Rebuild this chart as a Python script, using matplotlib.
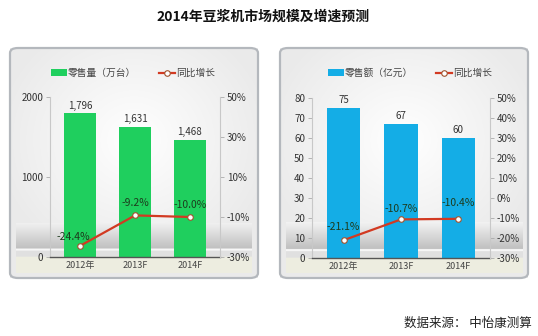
import numpy as np
import matplotlib
matplotlib.use("Agg")
import matplotlib.pyplot as plt
from matplotlib.patches import FancyBboxPatch, Patch
from matplotlib.lines import Line2D

plt.rcParams['font.family'] = ['Noto Sans CJK SC', 'DejaVu Sans']

categories = ["2012年", "2013F", "2014F"]
volume = [1796, 1631, 1468]          # 零售量（万台）
volume_growth = [-24.4, -9.2, -10.0]  # 同比增长 %
revenue = [75, 67, 60]               # 零售额（亿元）
revenue_growth = [-21.1, -10.7, -10.4]
title = "2014年豆浆机市场规模及增速预测"
source = "数据来源： 中怡康测算"

W, H = 538, 336
fig = plt.figure(figsize=(W / 100, H / 100), dpi=100)

def fx(px):
    return px / W

def fy(py):
    return 1 - py / H

def panel(x0, x1, y0, y1):
    bg = fig.add_axes([fx(x0), fy(y1), fx(x1 - x0), (y1 - y0) / H], zorder=0)
    gx = np.linspace(-1, 1, 200)
    gy = np.linspace(-1, 1, 200)
    X, Y = np.meshgrid(gx, gy)
    Z = 0.92 + 0.08 * (1 - np.clip(np.sqrt((X * 0.9) ** 2 + ((Y + 0.2) * 0.9) ** 2), 0, 1))
    img = np.dstack([Z, Z, Z])
    bg.imshow(img, extent=[0, 1, 0, 1], aspect='auto', origin='upper')
    bg.set_xlim(0, 1)
    bg.set_ylim(0, 1)
    bg.axis('off')

def floor(x0, x1, top, bottom, axis_y, strip_bottom):
    fl = fig.add_axes([fx(x0), fy(strip_bottom), fx(x1 - x0), (strip_bottom - top) / H], zorder=0.5)
    n = 100
    tot = strip_bottom - top
    ys = np.linspace(top, strip_bottom, n)
    vals = np.ones((n, 1, 3))
    for i, py in enumerate(ys):
        if py <= bottom:
            t = (py - top) / (bottom - top)
            c = 0.95 - 0.20 * t
        elif py <= bottom + 2:
            c = 0.97
        elif py <= axis_y:
            c = 0.88
        else:
            c = 0.93
        vals[i, 0, :] = c
    vals[:, 0, 2] -= np.where(ys > axis_y, 0.05, 0)
    fl.imshow(vals, extent=[0, 1, 0, 1], aspect='auto', origin='upper')
    fl.set_xlim(0, 1)
    fl.set_ylim(0, 1)
    fl.axis('off')

def border(x0, x1, y0, y1):
    p = FancyBboxPatch((fx(x0), fy(y1)), fx(x1 - x0), (y1 - y0) / H,
                       boxstyle="round,pad=0,rounding_size=0.015",
                       transform=fig.transFigure, facecolor='none',
                       edgecolor='#b4b8bd', linewidth=1.6, zorder=5)
    fig.patches.append(p)

def make_chart(ax_rect, values, growth, color, ylim, yticks, rticks, legend_label,
               legend_center, label_offsets):
    ax = fig.add_axes(ax_rect, zorder=2)
    ax.patch.set_alpha(0)
    x = np.arange(len(categories))
    ax.bar(x, values, width=0.58, color=color, zorder=2)
    ax.set_xlim(-0.55, len(categories) - 0.45)
    ax.set_ylim(*ylim)
    ax.set_yticks(yticks)
    ax.set_yticklabels([str(t) for t in yticks], fontsize=7, color='#333333')
    ax.set_xticks(x)
    ax.set_xticklabels(categories, fontsize=6.5, color='#444444')
    ax.tick_params(axis='x', length=0, pad=3)
    ax.tick_params(axis='y', length=3, width=0.6, color='#aaaaaa', pad=2)
    for s in ['top', 'right']:
        ax.spines[s].set_visible(False)
    ax.spines['left'].set_color('#c8c8c8')
    ax.spines['left'].set_linewidth(0.8)
    ax.spines['bottom'].set_color('#555555')
    ax.spines['bottom'].set_linewidth(1.0)
    for xi, v in zip(x, values):
        ax.annotate(f"{v:,}", (xi, v), xytext=(0, 2), textcoords='offset points',
                    ha='center', va='bottom', fontsize=7, color='#333333', zorder=4)

    ax2 = ax.twinx()
    ax2.set_zorder(3)
    ax2.patch.set_alpha(0)
    ax2.set_ylim(-30, 50)
    ax2.set_yticks(rticks)
    ax2.set_yticklabels([f"{t}%" for t in rticks], fontsize=7, color='#333333')
    ax2.tick_params(axis='y', length=3, width=0.6, color='#aaaaaa', pad=2)
    for s in ['top', 'left', 'bottom']:
        ax2.spines[s].set_visible(False)
    ax2.spines['right'].set_color('#c8c8c8')
    ax2.spines['right'].set_linewidth(0.8)
    ax2.plot(x, growth, color='#d23a22', linewidth=1.6, marker='o',
             markersize=4, markerfacecolor='white', markeredgecolor='#a0522d',
             markeredgewidth=0.8, zorder=5)
    for xi, g, off in zip(x, growth, label_offsets):
        ax2.annotate(f"{g:.1f}%", (xi, g), xytext=off, textcoords='offset points',
                     ha='center', va='bottom', fontsize=7.5, color='#1d3b1d', zorder=6)

    lh_bar = Patch(facecolor=color, edgecolor='none')
    lh_line = Line2D([0], [0], color='#d23a22', linewidth=1.6, marker='o', markersize=4,
                     markerfacecolor='white', markeredgecolor='#a0522d', markeredgewidth=0.8)
    ax.legend([lh_bar, lh_line], [legend_label, "同比增长"], ncol=2,
              loc='center', bbox_to_anchor=legend_center,
              bbox_transform=fig.transFigure, frameon=False, fontsize=7,
              handlelength=1.6, handleheight=0.6, handletextpad=0.1,
              columnspacing=2.4, labelcolor='#444444')

# Left panel
panel(10, 258, 48, 278)
floor(16, 252, 223, 249, 257, 273)
border(10, 258, 48, 278)
make_chart([fx(50), fy(257), fx(170), 160 / H], volume, volume_growth, '#1fcf5e',
           (0, 2000), [0, 1000, 2000], [-30, -10, 10, 30, 50], "零售量（万台）",
           (fx(133), fy(73)), [(-5, 3), (0, 5), (0, 5)])

# Right panel
panel(280, 528, 48, 278)
floor(286, 522, 222, 249, 258, 273)
border(280, 528, 48, 278)
make_chart([fx(312), fy(258), fx(178), 160 / H], revenue, revenue_growth, '#14ade6',
           (0, 80), list(range(0, 81, 10)), list(range(-30, 51, 10)), "零售额（亿元）",
           (fx(410), fy(73)), [(0, 6), (0, 4), (0, 8)])

fig.text(fx(263), fy(17), title, ha='center', va='center', fontsize=10,
         fontweight='bold', color='#111111')
fig.text(fx(532), fy(323), source, ha='right', va='center', fontsize=9, color='#222222')

fig.savefig("out.png", dpi=100)
